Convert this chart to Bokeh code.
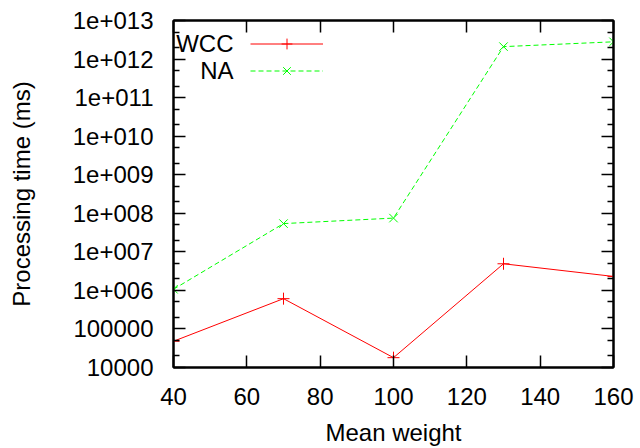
from bokeh.plotting import figure
from bokeh.models import (FixedTicker, LogAxis, LinearAxis, Legend, LegendItem,
                          Label, CustomJSTickFormatter, Range1d)
from bokeh.core.properties import value
from bokeh.embed import file_html
from bokeh.resources import INLINE

# ---- data ----
mean_weight = [40, 70, 100, 130, 160]
wcc_time = [4.8e4, 6.1e5, 1.8e4, 4.9e6, 2.3e6]
na_time = [1.07e6, 5.4e7, 7.5e7, 2.1e12, 2.8e12]

x_ticks = [40, 60, 80, 100, 120, 140, 160]
y_ticks = [1e4, 1e5, 1e6, 1e7, 1e8, 1e9, 1e10, 1e11, 1e12, 1e13]
y_tick_labels = ["10000", "100000", "1e+006", "1e+007", "1e+008", "1e+009",
                 "1e+010", "1e+011", "1e+012", "1e+013"]
y_minor = [m * t for t in y_ticks[:-1] for m in (2, 5)]

FONT = "Liberation Sans"
FS = "24px"

p = figure(width=640, height=448, output_backend="svg", toolbar_location=None,
           y_axis_type="log", x_range=Range1d(40, 160), y_range=Range1d(1e4, 1e13),
           min_border_left=173, min_border_right=27, min_border_top=20,
           min_border_bottom=81)
p.frame_width = 440
p.frame_height = 347
p.grid.visible = False
p.outline_line_color = "black"
p.outline_line_width = 2
p.background_fill_color = "white"
p.border_fill_color = "white"

def style(ax):
    ax.axis_line_width = 2
    ax.axis_line_color = "black"
    ax.major_tick_in = 12
    ax.major_tick_out = 0
    ax.minor_tick_in = 6
    ax.minor_tick_out = 0
    ax.major_tick_line_width = 1.5
    ax.minor_tick_line_width = 1.5
    ax.major_label_text_font = FONT
    ax.major_label_text_font_size = FS
    ax.major_label_text_color = "black"
    ax.axis_label_text_font = FONT
    ax.axis_label_text_font_size = FS
    ax.axis_label_text_font_style = "normal"
    ax.axis_label_text_color = "black"

xa = p.xaxis[0]
xa.ticker = FixedTicker(ticks=x_ticks, minor_ticks=[])
style(xa)
xa.axis_label = "Mean weight"
xa.major_label_standoff = 20
xa.axis_label_standoff = 11

ya = p.yaxis[0]
ya.ticker = FixedTicker(ticks=y_ticks, minor_ticks=y_minor)
style(ya)
ya.major_label_overrides = {t: s for t, s in zip(y_ticks, y_tick_labels)}
ya.axis_label = "Processing time (ms)"
ya.major_label_standoff = 20
ya.axis_label_standoff = 35

blank = CustomJSTickFormatter(code="return ''")
top = LinearAxis(ticker=FixedTicker(ticks=x_ticks, minor_ticks=[]), formatter=blank)
style(top)
top.major_label_standoff = 0
p.add_layout(top, "above")
right = LogAxis(ticker=FixedTicker(ticks=y_ticks, minor_ticks=y_minor), formatter=blank)
style(right)
right.major_label_standoff = 0
p.add_layout(right, "right")

l1 = p.line(mean_weight, wcc_time, line_color="#ff0000", line_width=1)
s1 = p.scatter(mean_weight, wcc_time, marker="cross", size=12, line_color="#ff0000",
               line_width=1)
l2 = p.line(mean_weight, na_time, line_color="#00ff00", line_width=1, line_dash="5 3")
s2 = p.scatter(mean_weight, na_time, marker="x", size=12, line_color="#00ff00",
               line_width=1)

legend = Legend(items=[LegendItem(label=value(""), renderers=[l1, s1]),
                       LegendItem(label=value(""), renderers=[l2, s2])],
                location=(77, 283), glyph_width=73, glyph_height=27,
                label_width=0, label_standoff=0, label_height=27, spacing=0,
                padding=0, margin=0, border_line_alpha=0, background_fill_alpha=0,
                label_text_font_size="10px")
p.add_layout(legend, "center")

for txt, yy in (("WCC", 324), ("NA", 297)):
    p.add_layout(Label(x=60, y=yy, x_units="screen", y_units="screen", text=txt,
                       text_align="right", text_baseline="middle",
                       text_font=FONT, text_font_size=FS, text_color="black"))

open("out.html", "w").write(file_html(p, INLINE))
